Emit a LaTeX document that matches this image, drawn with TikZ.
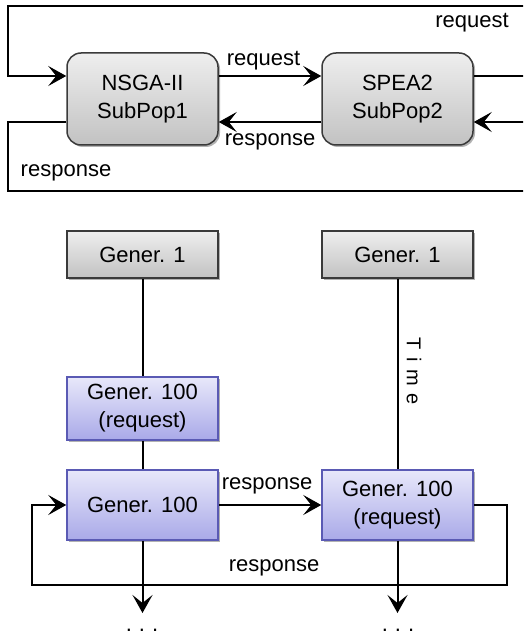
\documentclass[tikz,border=0pt]{standalone}
\usepackage{fontspec}
\setmainfont{Liberation Sans}
\usetikzlibrary{arrows.meta,shadows}
\definecolor{grayT}{HTML}{EEEEEE}
\definecolor{grayB}{HTML}{C2C2C2}
\definecolor{grayD}{HTML}{3A3A3A}
\definecolor{blueT}{HTML}{E8E8FA}
\definecolor{blueB}{HTML}{A9A9E8}
\definecolor{blueD}{HTML}{5A5AB4}
\begin{document}
\begin{tikzpicture}[x=1pt,y=-1pt,
  font=\fontsize{22}{28}\selectfont,
  conn/.style={line width=2pt, draw=black},
  arr/.style={conn, -{Stealth[length=18pt,width=20pt,inset=8pt]}},
  shade/.style={drop shadow={shadow xshift=2pt, shadow yshift=-2pt, opacity=0.3, fill=black}},
  algbox/.style={shade, draw=grayD, line width=1.5pt, rounded corners=14pt,
    top color=grayT, bottom color=grayB, minimum width=151pt, minimum height=92pt,
    inner sep=0pt, align=center},
  genbox/.style={shade, draw=grayD, line width=1.5pt,
    top color=grayT, bottom color=grayB, minimum width=151pt, minimum height=47pt,
    inner sep=0pt, align=center},
  bluebox/.style={shade, draw=blueD, line width=1.5pt,
    top color=blueT, bottom color=blueB, minimum width=151pt,
    inner sep=0pt, align=center},
  lbl/.style={inner sep=0pt}
]
\useasboundingbox (0,0) rectangle (523,636);
\clip (0,0) rectangle (523,636);

% coordinates for connector levels
\coordinate (yr) at (0,76);
\coordinate (ys) at (0,122);

% top: algorithms
\node[algbox] (nsga) at (142.5,99) {NSGA-II\\SubPop1};
\node[algbox] (spea) at (397.5,99) {SPEA2\\SubPop2};

\draw[arr] (nsga.east |- yr) -- (spea.west |- yr);
\draw[arr] (spea.west |- ys) -- (nsga.east |- ys);
\draw[arr] (spea.east |- yr) -- (545,76) -- (545,6) -- (8,6) -- (8,76) -- (nsga.west |- yr);
\draw[arr] (nsga.west |- ys) -- (8,122) -- (8,191) -- (545,191) -- (545,122) -- (spea.east |- ys);

\node[lbl] (l1) at (263.5,61) {request};
\node[lbl] (l2) at (270,142) {response};
\node[lbl] (l3) at (472,23) {request};
\node[lbl] (l4) at (66,173) {response};

% bottom: generations
\node[genbox] (g1a) at (142.5,254.5) {Gener. 1};
\node[genbox] (g1b) at (397.5,254.5) {Gener. 1};
\node[bluebox, minimum height=63pt] (g100ra) at (142.5,408.5) {Gener. 100\\(request)};
\node[bluebox, minimum height=70pt] (g100a) at (142.5,505) {Gener. 100};
\node[bluebox, minimum height=70pt] (g100rb) at (397.5,505) {Gener. 100\\(request)};

\coordinate (enda) at (142.5,613);
\coordinate (endb) at (397.5,613);

\draw[conn] (g1a.south) -- (g100ra.north);
\draw[conn] (g100ra.south) -- (g100a.north);
\draw[arr] (g100a.south) -- (enda);
\draw[conn] (g1b.south) -- (g100rb.north);
\draw[arr] (g100rb.south) -- (endb);

\draw[arr] (g100a.east) -- (g100rb.west);
\draw[arr] (g100rb.east) -- (507,505) -- (507,585) -- (32,585) -- (32,505) -- (g100a.west);

\node[lbl] (l5) at (267,486) {response};
\node[lbl] (l6) at (274,568) {response};

\node[lbl, rotate=-90, font=\fontsize{20}{22}\selectfont] (time) at (414,371) {T\kern7.5pt i\kern7.5pt m\kern7.5pt e};

\node[lbl, anchor=base] (dotsa) at (142,631) {.\kern7pt.\kern7pt.};
\node[lbl, anchor=base] (dotsb) at (398,631) {.\kern7pt.\kern7pt.};
\end{tikzpicture}
\end{document}
